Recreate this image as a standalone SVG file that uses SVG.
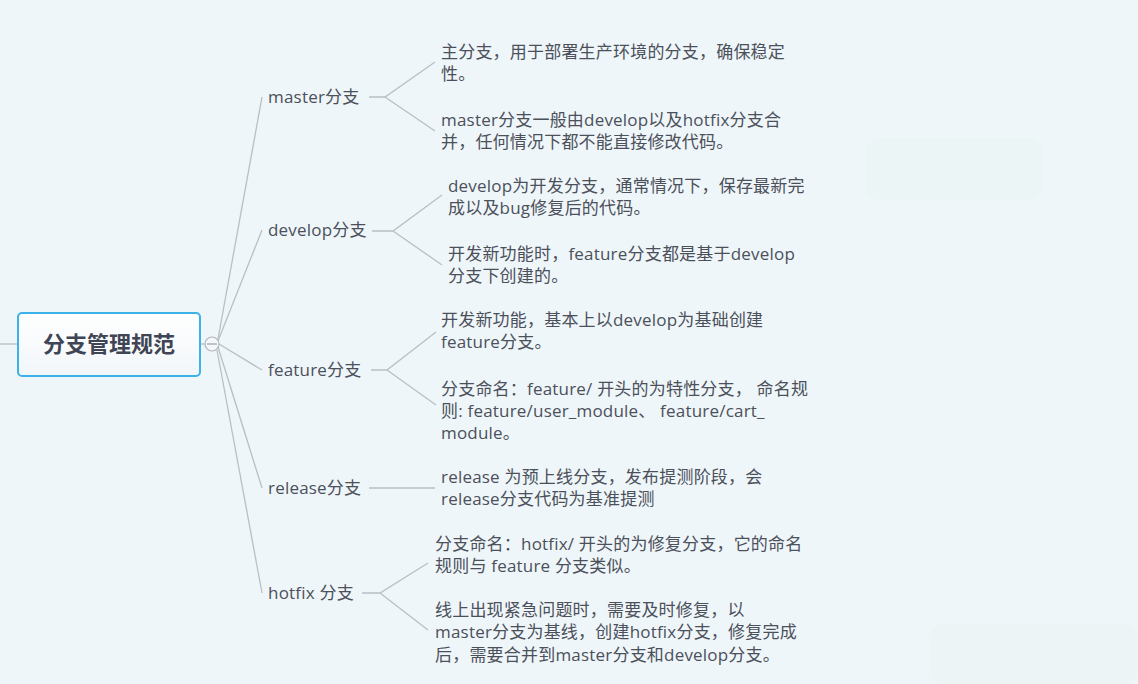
<svg xmlns="http://www.w3.org/2000/svg" width="1138" height="684" viewBox="0 0 1138 684">
<defs>
<style>
.t{font-family:"Open Sans","Noto Sans CJK SC",sans-serif;font-size:17px;letter-spacing:0.2px;fill:#4b505b}
.ln{stroke:#b9bfc4;stroke-width:1.3;fill:none}
</style>
<linearGradient id="g" x1="0" y1="0" x2="0" y2="1">
<stop offset="0" stop-color="#ffffff"/>
<stop offset="1" stop-color="#f2f6f9"/>
</linearGradient>
</defs>
<rect width="1138" height="684" fill="#eff6f9"/>
<rect x="866" y="138" width="176" height="62" rx="14" fill="#ebf5f6"/>
<rect x="931" y="624" width="207" height="60" rx="12" fill="#edf4f6"/>
<g id="connectors" class="ln">
<line x1="0" y1="344" x2="18" y2="344"/>
<line x1="200" y1="344" x2="205" y2="344"/>
<path d="M218 339 L262 97"/>
<path d="M218 341 L262 230"/>
<path d="M219 344 L262 370"/>
<path d="M218 347 L262 488"/>
<path d="M217 350 L262 593"/>
<path d="M369 97 H385 L435 62 M385 97 L435 131"/>
<path d="M372 231 H393 L442 195 M393 231 L442 265"/>
<path d="M371 370 H387 L436 332 M387 370 L436 405"/>
<path d="M369 488 H435"/>
<path d="M362 593 H380 L428 563 M380 593 L428 630"/>
</g>
<g id="root">
<rect x="18" y="313" width="182" height="63" rx="4" fill="url(#g)" stroke="#3bb3ea" stroke-width="2"/>
<text x="109" y="352" text-anchor="middle" style="font-family:'Noto Sans CJK SC',sans-serif;font-size:22px;font-weight:bold;fill:#3f4554">分支管理规范</text>
</g>
<g id="collapse">
<circle cx="212" cy="344" r="7" fill="#f5f8fa" stroke="#b0b6bc" stroke-width="1.2"/>
<line x1="207" y1="344" x2="217" y2="344" stroke="#9aa0a6" stroke-width="1.2"/>
</g>
<g id="master"><text class="t" x="268" y="103">master分支</text></g>
<g id="develop"><text class="t" x="268" y="236">develop分支</text></g>
<g id="feature"><text class="t" x="268" y="376">feature分支</text></g>
<g id="release"><text class="t" x="268" y="494">release分支</text></g>
<g id="hotfix"><text class="t" x="268" y="599">hotfix 分支</text></g>
<g id="master-1"><text class="t" x="441" y="58">主分支，用于部署生产环境的分支，确保稳定</text><text class="t" x="441" y="80">性。</text></g>
<g id="master-2"><text class="t" x="441" y="126">master分支一般由develop以及hotfix分支合</text><text class="t" x="441" y="148">并，任何情况下都不能直接修改代码。</text></g>
<g id="develop-1"><text class="t" x="448" y="192">develop为开发分支，通常情况下，保存最新完</text><text class="t" x="448" y="214">成以及bug修复后的代码。</text></g>
<g id="develop-2"><text class="t" x="448" y="260">开发新功能时，feature分支都是基于develop</text><text class="t" x="448" y="282">分支下创建的。</text></g>
<g id="feature-1"><text class="t" x="441" y="326">开发新功能，基本上以develop为基础创建</text><text class="t" x="441" y="348">feature分支。</text></g>
<g id="feature-2"><text class="t" x="441" y="395">分支命名：feature/ 开头的为特性分支， 命名规</text><text class="t" x="441" y="417">则: feature/user_module、 feature/cart_</text><text class="t" x="441" y="439">module。</text></g>
<g id="release-1"><text class="t" x="441" y="483">release 为预上线分支，发布提测阶段，会</text><text class="t" x="441" y="505">release分支代码为基准提测</text></g>
<g id="hotfix-1"><text class="t" x="435" y="550">分支命名：hotfix/ 开头的为修复分支，它的命名</text><text class="t" x="435" y="572">规则与 feature 分支类似。</text></g>
<g id="hotfix-2"><text class="t" x="435" y="616">线上出现紧急问题时，需要及时修复，以</text><text class="t" x="435" y="638">master分支为基线，创建hotfix分支，修复完成</text><text class="t" x="435" y="661">后，需要合并到master分支和develop分支。</text></g>
</svg>
